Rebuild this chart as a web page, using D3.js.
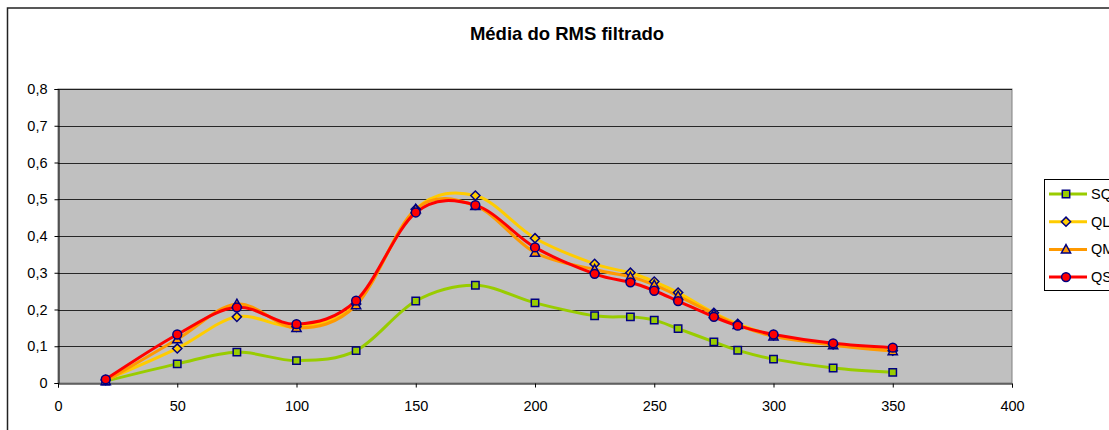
<!DOCTYPE html>
<html>
<head>
<meta charset="utf-8">
<script src="https://cdn.jsdelivr.net/npm/d3@7"></script>
<style>
  body { margin: 0; background: #fff; }
  svg { font-family: "Liberation Sans", Arial, sans-serif; }
</style>
</head>
<body>
<svg id="chart"></svg>
<script>
const xValues = [20, 50, 75, 100, 125, 150, 175, 200, 225, 240, 250, 260, 275, 285, 300, 325, 350];
const sq = [0.005, 0.052, 0.084, 0.061, 0.088, 0.223, 0.266, 0.218, 0.183, 0.180, 0.171, 0.148, 0.112, 0.089, 0.065, 0.041, 0.029];
const ql = [0.008, 0.094, 0.180, 0.153, 0.215, 0.473, 0.510, 0.394, 0.324, 0.300, 0.276, 0.246, 0.191, 0.161, 0.130, 0.105, 0.088];
const qm = [0.005, 0.119, 0.215, 0.150, 0.212, 0.473, 0.482, 0.355, 0.309, 0.289, 0.267, 0.237, 0.188, 0.158, 0.127, 0.103, 0.087];
const qs = [0.010, 0.132, 0.206, 0.160, 0.224, 0.464, 0.484, 0.369, 0.297, 0.274, 0.251, 0.223, 0.180, 0.156, 0.132, 0.108, 0.096];
const seriesNames = ['SQ', 'QL', 'QM', 'QS'];
const xTicks = [0, 50, 100, 150, 200, 250, 300, 350, 400];
const yTicks = [0, 0.1, 0.2, 0.3, 0.4, 0.5, 0.6, 0.7, 0.8];
const title = 'Média do RMS filtrado';

const width = 1109;
const height = 430;
const plot = { left: 58, right: 1012, top: 89, bottom: 383 };

const series = [
  { name: seriesNames[0], values: sq, color: '#99cc00', marker: 'square' },
  { name: seriesNames[1], values: ql, color: '#ffcc00', marker: 'diamond' },
  { name: seriesNames[2], values: qm, color: '#ff9900', marker: 'triangle' },
  { name: seriesNames[3], values: qs, color: '#ff0000', marker: 'circle' }
];

const svg = d3.select('#chart')
  .attr('width', width)
  .attr('height', height);

// outer chart border
svg.append('rect')
  .attr('x', 7.5).attr('y', 8)
  .attr('width', width + 20).attr('height', height + 20)
  .attr('fill', '#fff')
  .attr('stroke', '#222')
  .attr('stroke-width', 1.5);

svg.append('text')
  .attr('x', 567).attr('y', 40)
  .attr('text-anchor', 'middle')
  .attr('font-size', 18.5)
  .attr('font-weight', 'bold')
  .text(title);

const x = d3.scaleLinear().domain([0, 400]).range([plot.left, plot.right]);
const y = d3.scaleLinear().domain([0, 0.8]).range([plot.bottom, plot.top]);

// plot area
svg.append('rect')
  .attr('x', plot.left).attr('y', plot.top)
  .attr('width', plot.right - plot.left).attr('height', plot.bottom - plot.top)
  .attr('fill', '#c0c0c0')
  .attr('stroke', '#808080');

// gridlines
svg.append('g')
  .selectAll('line')
  .data(yTicks.slice(1))
  .enter()
  .append('line')
  .attr('x1', plot.left).attr('x2', plot.right)
  .attr('y1', d => Math.round(y(d)) + 0.5).attr('y2', d => Math.round(y(d)) + 0.5)
  .attr('stroke', '#000')
  .attr('stroke-opacity', 0.8);

const fmt = d => d === 0 ? '0' : d3.format('.1f')(d).replace('.', ',');

const yAxis = svg.append('g')
  .attr('transform', `translate(${plot.left + 0.5},0)`)
  .call(d3.axisLeft(y).tickValues(yTicks).tickSize(4).tickPadding(7).tickFormat(fmt));

const xAxis = svg.append('g')
  .attr('transform', `translate(0,${plot.bottom + 0.5})`)
  .call(d3.axisBottom(x).tickValues(xTicks).tickSize(4).tickPadding(13).tickFormat(d3.format('d')));

[xAxis, yAxis].forEach(a => {
  a.select('.domain').attr('stroke', '#000');
  a.selectAll('.tick line').attr('stroke', '#000');
  a.selectAll('text').attr('font-size', 14.5).attr('fill', '#000')
    .attr('font-family', '"Liberation Sans", Arial, sans-serif');
});

const line = d3.line()
  .x((d, i) => x(xValues[i]))
  .y(d => y(d))
  .curve(d3.curveCardinal.tension(0));

const markerPath = {
  square: 'M-3.7,-3.7H3.7V3.7H-3.7Z',
  diamond: 'M0,-4.6L4.6,0L0,4.6L-4.6,0Z',
  triangle: 'M0,-4.8L4.6,3.6H-4.6Z',
  circle: 'M4.4,0A4.4,4.4 0 1 1 -4.4,0A4.4,4.4 0 1 1 4.4,0Z'
};
const markerFill = { square: '#99cc00', diamond: '#ffcc00', triangle: '#ff9900', circle: '#ff0000' };

series.forEach(s => {
  svg.append('path')
    .datum(s.values)
    .attr('fill', 'none')
    .attr('stroke', s.color)
    .attr('stroke-width', 3)
    .attr('d', line);
});

series.forEach(s => {
  svg.append('g')
    .selectAll('path')
    .data(s.values)
    .enter()
    .append('path')
    .attr('transform', (d, i) => `translate(${x(xValues[i])},${y(d)})`)
    .attr('d', markerPath[s.marker])
    .attr('fill', markerFill[s.marker])
    .attr('stroke', '#000080')
    .attr('stroke-width', 1.5);
});

// legend
const legend = svg.append('g').attr('transform', 'translate(1044,179)');
legend.append('rect')
  .attr('x', 0.5).attr('y', 0.5)
  .attr('width', 100).attr('height', 111)
  .attr('fill', '#fff')
  .attr('stroke', '#000');

const item = legend.selectAll('.item')
  .data(series)
  .enter()
  .append('g')
  .attr('transform', (d, i) => `translate(0,${15 + i * 27.7})`);

item.append('line')
  .attr('x1', 5).attr('x2', 43)
  .attr('stroke', d => d.color)
  .attr('stroke-width', 3);

item.append('path')
  .attr('transform', 'translate(22,0)')
  .attr('d', d => markerPath[d.marker])
  .attr('fill', d => markerFill[d.marker])
  .attr('stroke', '#000080')
  .attr('stroke-width', 1.5);

item.append('text')
  .attr('x', 47).attr('y', 5)
  .attr('font-size', 14.5)
  .text(d => d.name);
</script>
</body>
</html>
